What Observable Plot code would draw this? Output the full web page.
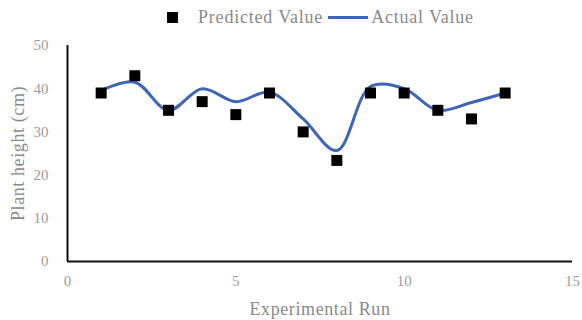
<!DOCTYPE html>
<html>
<head>
<meta charset="utf-8">
<script src="https://cdn.jsdelivr.net/npm/d3@7"></script>
<script src="https://cdn.jsdelivr.net/npm/@observablehq/plot@0.6"></script>
<style>
  html, body { margin: 0; padding: 0; background: #fff; }
  #chart { width: 582px; height: 320px; overflow: hidden; }
  .legend { height: 34px; display: flex; align-items: center; font-family: "Liberation Serif", "Times New Roman", serif; font-size: 18px; color: #8a8a8a; letter-spacing: 0.8px; }
  .legend .sq { width: 11px; height: 11px; background: #000; margin-left: 167px; margin-right: 20px; }
  .legend .ln { width: 40px; height: 3px; background: #3d67b6; margin-left: 5px; margin-right: 3px; }
  svg { display: block; }
</style>
</head>
<body>
<div id="chart"></div>
<script>
const runs = [1, 2, 3, 4, 5, 6, 7, 8, 9, 10, 11, 12, 13];
const predicted = [39, 43, 35, 37, 34, 39, 30, 23.4, 39, 39, 35, 33, 39];
const actual = [39.6, 41.5, 35, 40, 37, 39.2, 33, 25.7, 40.5, 40, 35, 36.8, 39];
const xTicks = [0, 5, 10, 15];
const yTicks = [0, 10, 20, 30, 40, 50];
const seriesNames = ["Predicted Value", "Actual Value"];

const predData = runs.map((r, i) => ({run: r, value: predicted[i]}));
const actData = runs.map((r, i) => ({run: r, value: actual[i]}));

const root = document.getElementById("chart");
const legend = document.createElement("div");
legend.className = "legend";
legend.innerHTML = `<span class="sq"></span><span>${seriesNames[0]}</span><span class="ln"></span><span>${seriesNames[1]}</span>`;
root.appendChild(legend);

const plot = Plot.plot({
  width: 582,
  height: 286,
  marginTop: 11,
  marginBottom: 59,
  marginLeft: 67,
  marginRight: 10,
  style: {fontFamily: "'Liberation Serif', 'Times New Roman', serif", fontSize: "15px", color: "#9c9c9c", background: "#fff"},
  x: {domain: [0, 15]},
  y: {domain: [0, 50]},
  marks: [
    Plot.axisX({ticks: xTicks, tickSize: 0, tickPadding: 14, tickFormat: d => String(d), label: "Experimental Run", labelAnchor: "center", labelArrow: "none", labelOffset: 53, fontSize: 15}),
    Plot.axisY({ticks: yTicks, tickSize: 0, tickPadding: 19, tickFormat: d => String(d), label: "Plant height (cm)", labelAnchor: "center", labelArrow: "none", labelOffset: 56, fontSize: 15}),
    Plot.ruleX([0], {stroke: "#111", strokeWidth: 2}),
    Plot.ruleY([0], {stroke: "#111", strokeWidth: 2}),
    Plot.line(actData, {x: "run", y: "value", curve: "catmull-rom", stroke: "#3d67b6", strokeWidth: 3}),
    Plot.dot(predData, {x: "run", y: "value", symbol: "square", r: 6.2, fill: "#000", stroke: "none"})
  ]
});
root.appendChild(plot);
// axis title font size / spacing
plot.querySelectorAll("g[aria-label='x-axis label'] text, g[aria-label='y-axis label'] text").forEach(t => {
  t.setAttribute("font-size", "18");
  t.setAttribute("letter-spacing", "0.6");
  t.setAttribute("fill", "#8a8a8a");
});
</script>
</body>
</html>
